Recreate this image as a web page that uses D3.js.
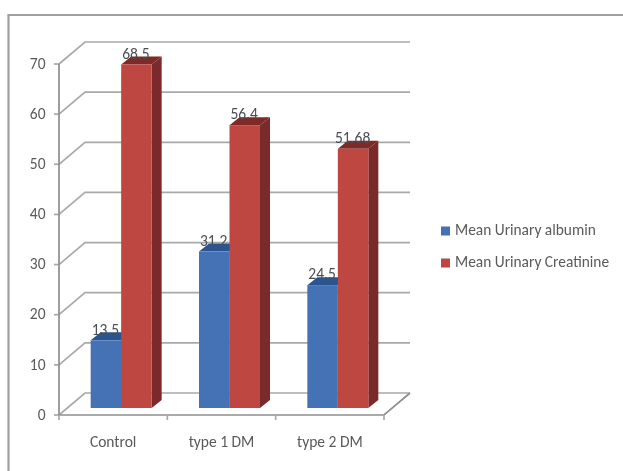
<!DOCTYPE html>
<html><head><meta charset="utf-8">
<script src="https://cdn.jsdelivr.net/npm/d3@7"></script>
<style>html,body{margin:0;padding:0;background:#fff}svg{display:block}</style>
</head><body><svg id="c" width="623" height="471"></svg>
<script>
const categories = ["Control", "type 1 DM", "type 2 DM"];
const seriesNames = ["Mean Urinary albumin", "Mean Urinary Creatinine"];
const albumin = [13.5, 31.2, 24.5];
const creatinine = [68.5, 56.4, 51.68];
const albuminLabels = ["13.5", "31.2", "24.5"];
const creatinineLabels = ["68.5", "56.4", "51.68"];
const yTicks = [0, 10, 20, 30, 40, 50, 60, 70];

const svg = d3.select("#c");
const font = "Carlito, 'Open Sans', 'Noto Sans', sans-serif";
svg.append("defs").append("filter").attr("id","soft")
  .append("feGaussianBlur").attr("stdDeviation",0.65);
const root = svg.append("g").attr("filter","url(#soft)");

// frame
root.append("path").attr("d","M8.5,471V15H623").attr("fill","none").attr("stroke","#a0a0a0").attr("stroke-width",2.2);

const y = d3.scaleLinear().domain([0,70]).range([415,64]);
const x = d3.scaleBand().domain(categories).range([59,384]);
const dx = 26, dy = -22;       // wall depth
const bx = 8, by = -7;         // bar plane inset
const bw = 30.5, sx = 10, sy = -8; // bar width, bar depth
const grid = "#a9a9a9";

// grid lines: back wall and side wall
const gl = root.append("g").attr("fill","none").attr("stroke",grid).attr("stroke-width",1.7);
yTicks.forEach(t=>{
  gl.append("path").attr("d",`M${x.range()[0]},${y(t)}L${x.range()[0]+dx},${y(t)+dy}H${x.range()[1]+dx}`);
  gl.append("path").attr("d",`M${x.range()[0]-5},${y(t)}H${x.range()[0]}`);
});
// axes
gl.append("path").attr("d",`M${x.range()[0]},${y(70)}V${y(0)}H${x.range()[1]}L${x.range()[1]+dx},${y(0)+dy}`).attr("stroke","#8e8e8e");
categories.forEach(c=>{
  const p = x(c)+x.bandwidth();
  gl.append("path").attr("d",`M${p},${y(0)}v5`);
});
gl.append("path").attr("d",`M${x.range()[0]},${y(0)}v5`);

// tick labels
root.append("g").selectAll("text").data(yTicks).join("text")
  .attr("x",45.5).attr("y",d=>y(d)+1).attr("text-anchor","end").attr("dominant-baseline","middle")
  .attr("font-family",font).attr("font-size",15.5).attr("fill","#5a5a5a").text(d=>d);
root.append("g").selectAll("text").data(categories).join("text")
  .attr("x",d=>x(d)+x.bandwidth()/2).attr("y",443).attr("text-anchor","middle").attr("dominant-baseline","middle")
  .attr("font-family",font).attr("font-size",15.5).attr("fill","#5a5a5a").text(d=>d);

// bars
const colors = [
  {front:"#4472b4", top:"#2c5590", side:"#2f5587"},
  {front:"#bf4743", top:"#7f2a27", side:"#7a2c29"}
];
const series = [albumin, creatinine];
const labels = [albuminLabels, creatinineLabels];
const bars = root.append("g");
series.forEach((vals,si)=>{
  categories.forEach((c,ci)=>{
    const v = vals[ci];
    const x0 = x(c)+x.bandwidth()/2+bx+(si-1)*bw;
    const x1 = x0+bw;
    const yb = y(0)+by, yt = y(v)+by;
    const col = colors[si];
    bars.append("path").attr("fill",col.side)
      .attr("d",`M${x1},${yb}L${x1+sx},${yb+sy}V${yt+sy}L${x1},${yt}Z`);
    bars.append("path").attr("fill",col.top)
      .attr("d",`M${x0},${yt}L${x0+sx},${yt+sy}H${x1+sx}L${x1},${yt}Z`);
    bars.append("rect").attr("x",x0).attr("y",yt).attr("width",bw).attr("height",yb-yt).attr("fill",col.front);
  });
});
// value labels
series.forEach((vals,si)=>{
  root.append("g").selectAll("text").data(vals).join("text")
    .attr("x",(d,i)=>x(categories[i])+x.bandwidth()/2+bx+(si-0.5)*bw-0.5)
    .attr("y",d=>y(d)+by-9.5)
    .attr("dominant-baseline","middle")
    .attr("text-anchor","middle").attr("font-family",font).attr("font-size",15.5).attr("fill","#4a4f55")
    .text((d,i)=>labels[si][i]);
});

// legend
const lg = root.append("g");
seriesNames.forEach((n,i)=>{
  const ly = 231+i*32;
  lg.append("rect").attr("x",441).attr("y",ly-4.5).attr("width",9).attr("height",9).attr("fill",colors[i].front);
  lg.append("text").attr("x",455).attr("y",ly).attr("dominant-baseline","middle")
    .attr("font-family",font).attr("font-size",15.4).attr("fill","#5a5a5a").text(n);
});
</script></body></html>
